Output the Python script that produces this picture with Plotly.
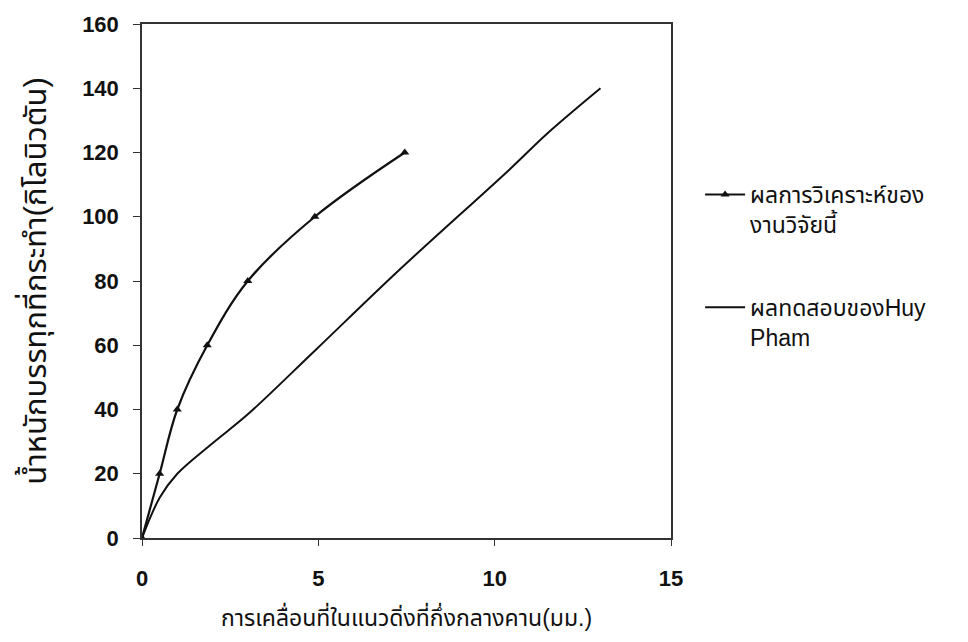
import plotly.graph_objects as go

# Series 1: analysis of this research (triangles)
x_analysis = [0, 0.5, 1.0, 1.85, 3.0, 4.9, 7.45]
y_analysis = [0, 20, 40, 60, 80, 100, 120]

# Series 2: Huy Pham test results (smooth line)
x_test = [0, 0.5, 1.0, 2.0, 3.0, 4.9, 7.3, 10.4, 11.5, 13.0]
y_test = [0, 12.5, 20, 29.5, 38.5, 58.3, 83.5, 114.5, 126, 140]

x_ticks = [0, 5, 10, 15]
y_ticks = [0, 20, 40, 60, 80, 100, 120, 140, 160]

name_analysis = "ผลการวิเคราะห์ของ<br>งานวิจัยนี้"
name_test = "ผลทดสอบของHuy<br>Pham"
x_title = "การเคลื่อนที่ในแนวดิ่งที่กึ่งกลางคาน(มม.)"
y_title = "น้ำหนักบรรทุกที่กระทำ(กิโลนิวตัน)"

font_family = "Liberation Sans, Arial, Noto Sans Thai, Noto Sans, sans-serif"

fig = go.Figure()
fig.add_trace(go.Scatter(
    x=x_analysis, y=y_analysis, name=name_analysis, legendgroup="a",
    mode="lines+markers",
    line=dict(color="#111111", width=2.2, shape="spline", smoothing=1.0),
    marker=dict(symbol="triangle-up", size=8, color="#111111"),
))
fig.add_trace(go.Scatter(
    x=x_test, y=y_test, name=name_test, legendgroup="b",
    mode="lines",
    line=dict(color="#111111", width=2, shape="spline", smoothing=1.0),
))

fig.update_layout(
    width=968, height=642,
    margin=dict(l=142, r=297, t=24, b=104),
    paper_bgcolor="white", plot_bgcolor="white",
    font=dict(family=font_family, color="#111111"),
    showlegend=True,
    legend=dict(
        x=1.055, y=0.71, xanchor="left", yanchor="top",
        font=dict(size=23, family=font_family, color="#111111"),
        bgcolor="rgba(0,0,0,0)",
        tracegroupgap=50, itemwidth=40, valign="top",
    ),
    xaxis=dict(
        range=[0, 15], tickvals=x_ticks, ticktext=[f"<b>{v}</b>" for v in x_ticks],
        showgrid=False, zeroline=False,
        showline=True, linecolor="#333333", linewidth=1.5, mirror=True,
        ticks="outside", ticklen=6, tickcolor="#333333",
        tickfont=dict(size=22, family=font_family),
        ticklabelstandoff=14,
        title=dict(text=x_title, font=dict(size=23, family=font_family), standoff=20),
    ),
    yaxis=dict(
        range=[0, 160], tickvals=y_ticks, ticktext=[f"<b>{v}</b>" for v in y_ticks],
        showgrid=False, zeroline=False,
        showline=True, linecolor="#333333", linewidth=1.5, mirror=True,
        ticks="outside", ticklen=7, tickcolor="#333333",
        tickfont=dict(size=22, family=font_family),
        ticklabelstandoff=10,
        title=dict(text=y_title, font=dict(size=31, family=font_family), standoff=26),
    ),
)

fig.write_html("out.html")
